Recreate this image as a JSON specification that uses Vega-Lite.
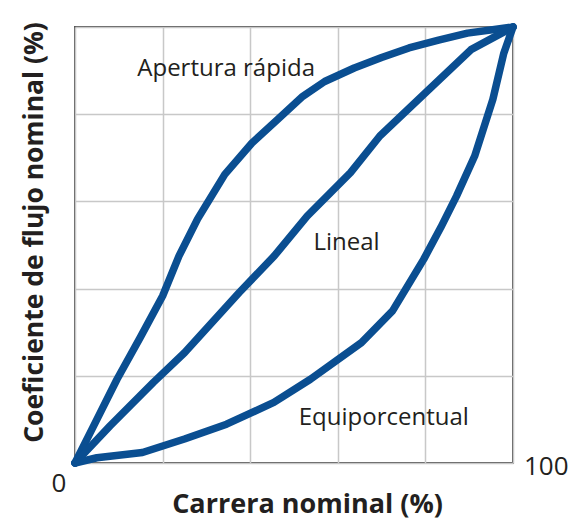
{
  "$schema": "https://vega.github.io/schema/vega-lite/v6.json",
  "width": 438,
  "height": 436,
  "autosize": {"type": "none"},
  "padding": {"left": 75, "top": 27, "right": 61, "bottom": 58},
  "background": "white",
  "config": {
    "view": {"stroke": "#555555", "strokeWidth": 2},
    "axis": {
      "domain": false, "ticks": false, "labels": false,
      "grid": true, "gridColor": "#c8c8c8", "gridWidth": 1.5,
      "titleFont": "Open Sans", "titleFontWeight": "bold", "titleColor": "#231f20"
    }
  },
  "datasets": {
    "curves": [
      {"serie": "Apertura rápida", "x": 0, "y": 0},
      {"serie": "Apertura rápida", "x": 4, "y": 8},
      {"serie": "Apertura rápida", "x": 9.6, "y": 19.2},
      {"serie": "Apertura rápida", "x": 15, "y": 29},
      {"serie": "Apertura rápida", "x": 20, "y": 38.3},
      {"serie": "Apertura rápida", "x": 23.75, "y": 47.5},
      {"serie": "Apertura rápida", "x": 28, "y": 56},
      {"serie": "Apertura rápida", "x": 34.2, "y": 66.2},
      {"serie": "Apertura rápida", "x": 40.4, "y": 73.4},
      {"serie": "Apertura rápida", "x": 46.25, "y": 78.8},
      {"serie": "Apertura rápida", "x": 52, "y": 84.1},
      {"serie": "Apertura rápida", "x": 57, "y": 87.5},
      {"serie": "Apertura rápida", "x": 63.75, "y": 90.6},
      {"serie": "Apertura rápida", "x": 70, "y": 93},
      {"serie": "Apertura rápida", "x": 76.25, "y": 95.2},
      {"serie": "Apertura rápida", "x": 83, "y": 97},
      {"serie": "Apertura rápida", "x": 89.6, "y": 98.6},
      {"serie": "Apertura rápida", "x": 100, "y": 100},
      {"serie": "Lineal", "x": 0, "y": 0},
      {"serie": "Lineal", "x": 8, "y": 8.5},
      {"serie": "Lineal", "x": 17.9, "y": 18.5},
      {"serie": "Lineal", "x": 25, "y": 25.3},
      {"serie": "Lineal", "x": 37.5, "y": 39.1},
      {"serie": "Lineal", "x": 45.5, "y": 47.5},
      {"serie": "Lineal", "x": 53, "y": 56.6},
      {"serie": "Lineal", "x": 62.9, "y": 66.6},
      {"serie": "Lineal", "x": 69.6, "y": 75},
      {"serie": "Lineal", "x": 79.6, "y": 84.5},
      {"serie": "Lineal", "x": 90.4, "y": 94.8},
      {"serie": "Lineal", "x": 100, "y": 100},
      {"serie": "Equiporcentual", "x": 0, "y": 0},
      {"serie": "Equiporcentual", "x": 5, "y": 1.2},
      {"serie": "Equiporcentual", "x": 15.4, "y": 2.4},
      {"serie": "Equiporcentual", "x": 25, "y": 5.5},
      {"serie": "Equiporcentual", "x": 34.6, "y": 8.9},
      {"serie": "Equiporcentual", "x": 45.4, "y": 13.9},
      {"serie": "Equiporcentual", "x": 53.75, "y": 19.2},
      {"serie": "Equiporcentual", "x": 65.4, "y": 27.6},
      {"serie": "Equiporcentual", "x": 72.5, "y": 34.9},
      {"serie": "Equiporcentual", "x": 79.6, "y": 46.7},
      {"serie": "Equiporcentual", "x": 83.5, "y": 54},
      {"serie": "Equiporcentual", "x": 87.1, "y": 61.2},
      {"serie": "Equiporcentual", "x": 91.25, "y": 70.4},
      {"serie": "Equiporcentual", "x": 95.4, "y": 83.4},
      {"serie": "Equiporcentual", "x": 97.9, "y": 94},
      {"serie": "Equiporcentual", "x": 100, "y": 100}
    ],
    "labels": [
      {"x": 34.5, "y": 88.8, "text": "Apertura rápida"},
      {"x": 62, "y": 48.9, "text": "Lineal"},
      {"x": 70.5, "y": 8.8, "text": "Equiporcentual"}
    ]
  },
  "layer": [
    {
      "data": {"name": "curves"},
      "mark": {"type": "line", "color": "#0a4e91", "strokeWidth": 7.5, "strokeCap": "round", "strokeJoin": "round", "clip": false},
      "encoding": {
        "x": {"field": "x", "type": "quantitative", "scale": {"domain": [0, 100], "nice": false},
              "axis": {"values": [0, 20, 40, 60, 80, 100], "title": "Carrera nominal (%)", "titleFontSize": 27,
                       "titleX": 232, "titleY": 49, "titleBaseline": "alphabetic", "titleAnchor": "middle"}},
        "y": {"field": "y", "type": "quantitative", "scale": {"domain": [0, 100], "nice": false},
              "axis": {"values": [0, 20, 40, 60, 80, 100], "title": "Coeficiente de flujo nominal (%)", "titleFontSize": 26.5,
                       "titleX": -33, "titleY": 205, "titleAngle": -90, "titleBaseline": "alphabetic", "titleAnchor": "middle"}},
        "detail": {"field": "serie", "type": "nominal"},
        "order": {"field": "x", "type": "quantitative"}
      }
    },
    {
      "data": {"name": "labels"},
      "mark": {"type": "text", "font": "Open Sans", "fontSize": 24, "color": "#231f20", "align": "center", "baseline": "alphabetic"},
      "encoding": {
        "x": {"field": "x", "type": "quantitative"},
        "y": {"field": "y", "type": "quantitative"},
        "text": {"field": "text"}
      }
    },
    {
      "data": {"values": [{"x": 0, "y": 0, "text": "0"}]},
      "mark": {"type": "text", "font": "Open Sans", "fontSize": 26, "color": "#231f20", "align": "center", "baseline": "alphabetic", "dx": -16, "dy": 29},
      "encoding": {
        "x": {"field": "x", "type": "quantitative"},
        "y": {"field": "y", "type": "quantitative"},
        "text": {"field": "text"}
      }
    },
    {
      "data": {"values": [{"x": 100, "y": 0, "text": "100"}]},
      "mark": {"type": "text", "font": "Open Sans", "fontSize": 26, "color": "#231f20", "align": "left", "baseline": "alphabetic", "dx": 11, "dy": 12},
      "encoding": {
        "x": {"field": "x", "type": "quantitative"},
        "y": {"field": "y", "type": "quantitative"},
        "text": {"field": "text"}
      }
    }
  ]
}
